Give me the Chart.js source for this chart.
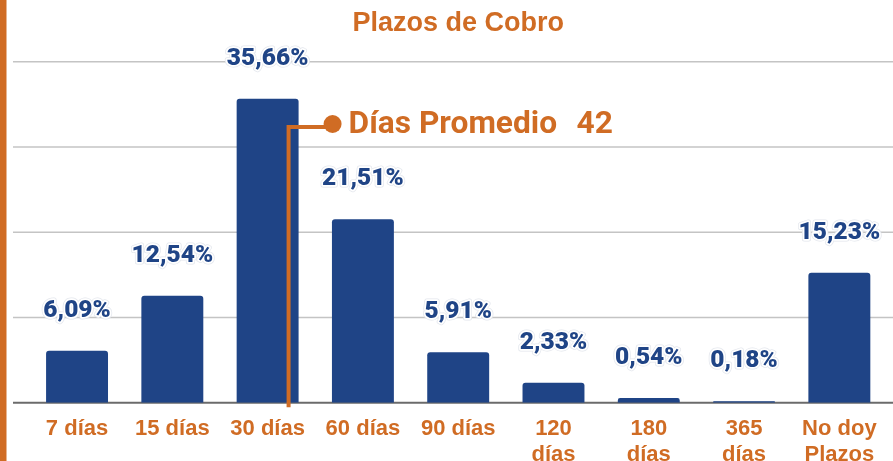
<!DOCTYPE html>
<html>
<head>
<meta charset="utf-8">
<script src="https://cdn.jsdelivr.net/npm/chart.js@4/dist/chart.umd.min.js"></script>
<style>
  html, body { margin: 0; padding: 0; background: #fff; }
  #wrap { width: 893px; height: 461px; position: relative; }
</style>
</head>
<body>
<div id="wrap"><canvas id="plazosChart"></canvas></div>
<script>
// --- Plazos de Cobro ---

const categorias = [
    '7 días', '15 días', '30 días', '60 días', '90 días',
    ['120', 'días'], ['180', 'días'], ['365', 'días'], ['No doy', 'Plazos']
];
const porcentajes = [6.09, 12.54, 35.66, 21.51, 5.91, 2.33, 0.54, 0.18, 15.23];
const ejeY = [0, 10, 20, 30, 40];

const diasPromedioTexto = 'Días Promedio';
const diasPromedioValor = '42';
const diasPromedioPos = 2.22; // posicion sobre el eje de categorias

const AZUL = '#1F4486';
const NARANJA = '#D06C24';

// formatea 35.66 -> "35,66%"
function fmt(v) {
    return v.toFixed(2).replace('.', ',') + '%';
}

// barra naranja a la izquierda + lineas de la grilla (ancho completo)
const fondoPlugin = {
    id: 'fondo',
    beforeDatasetsDraw(chart) {
        const ctx = chart.ctx;
        const y = chart.scales.y;
        ctx.save();
        ctx.fillStyle = NARANJA;
        ctx.fillRect(0, 0, 6.5, chart.height);
        ejeY.forEach(v => {
            const py = y.getPixelForValue(v);
            ctx.beginPath();
            ctx.moveTo(13, py);
            ctx.lineTo(chart.width, py);
            if (v === 0) {
                ctx.strokeStyle = '#6b6b6b';
                ctx.lineWidth = 2;
            } else {
                ctx.strokeStyle = '#c4c4c4';
                ctx.lineWidth = 1.5;
            }
            ctx.stroke();
        });
        ctx.restore();
    }
};

// etiquetas de valor sobre las barras y la anotacion del promedio
const etiquetasPlugin = {
    id: 'etiquetas',
    afterDatasetsDraw(chart) {
        const ctx = chart.ctx;
        const meta = chart.getDatasetMeta(0);
        ctx.save();
        ctx.font = '900 24.5px Roboto';
        ctx.textAlign = 'center';
        ctx.textBaseline = 'middle';
        ctx.lineJoin = 'round';
        meta.data.forEach((bar, i) => {
            const txt = fmt(porcentajes[i]);
            const ty = bar.y - 40;
            ctx.strokeStyle = 'rgba(225,228,235,0.9)';
            ctx.lineWidth = 5;
            ctx.strokeText(txt, bar.x, ty);
            ctx.strokeStyle = '#ffffff';
            ctx.lineWidth = 3.5;
            ctx.strokeText(txt, bar.x, ty);
            ctx.fillStyle = AZUL;
            ctx.fillText(txt, bar.x, ty);
        });

        // linea del promedio
        const px = chart.scales.x.getPixelForValue(diasPromedioPos);
        const baseY = chart.scales.y.getPixelForValue(0);
        const lineY = 127;
        ctx.strokeStyle = NARANJA;
        ctx.lineWidth = 4;
        ctx.lineJoin = 'miter';
        ctx.beginPath();
        ctx.moveTo(px, baseY + 4.5);
        ctx.lineTo(px, lineY);
        ctx.lineTo(px + 44, lineY);
        ctx.stroke();
        ctx.beginPath();
        ctx.arc(px + 44, lineY - 3, 9, 0, Math.PI * 2);
        ctx.fillStyle = NARANJA;
        ctx.fill();

        ctx.font = 'bold 31.7px Roboto';
        ctx.textAlign = 'left';
        ctx.textBaseline = 'alphabetic';
        ctx.fillText(diasPromedioTexto, px + 60, 133);
        ctx.fillText(diasPromedioValor, px + 288, 133);
        ctx.restore();
    }
};

const ctx = document.getElementById('plazosChart').getContext('2d');
new Chart(ctx, {
    type: 'bar',
    data: {
        labels: categorias,
        datasets: [{
            data: porcentajes,
            backgroundColor: AZUL,
            borderRadius: { topLeft: 3, topRight: 3 },
            borderSkipped: 'bottom',
            barPercentage: 0.65,
            categoryPercentage: 1
        }]
    },
    options: {
        responsive: true,
        maintainAspectRatio: false,
        animation: false,
        layout: { padding: { left: 29.4, right: 6, top: 0, bottom: 0 } },
        scales: {
            y: {
                display: false,
                min: 0,
                max: 40,
                ticks: { stepSize: 10 }
            },
            x: {
                grid: { display: false },
                border: { display: false },
                ticks: {
                    color: NARANJA,
                    font: { family: '"Liberation Sans", Arial', weight: 'bold', size: 22, lineHeight: 1.15 },
                    padding: 6,
                    maxRotation: 0,
                    autoSkip: false
                },
                afterFit(scale) { scale.height = 58.3; }
            }
        },
        plugins: {
            legend: { display: false },
            tooltip: { enabled: false },
            title: {
                display: true,
                text: 'Plazos de Cobro',
                color: NARANJA,
                font: { family: '"Liberation Sans", Arial', weight: 'bold', size: 27, lineHeight: 1.2 },
                padding: { top: 7, bottom: 22.3 }
            }
        }
    },
    plugins: [fondoPlugin, etiquetasPlugin]
});
</script>
</body>
</html>
